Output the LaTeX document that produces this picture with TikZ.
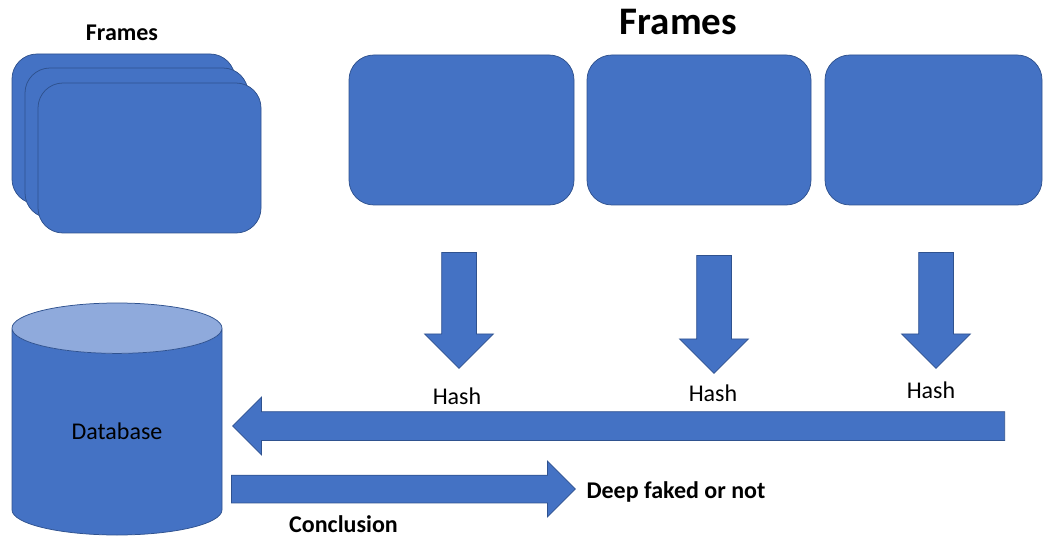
\documentclass[tikz,border=0pt]{standalone}
\usepackage{fontspec}
\setmainfont{Carlito}
\usetikzlibrary{shapes.geometric,shapes.arrows}
\definecolor{office}{HTML}{4472C4}
\definecolor{officedark}{HTML}{2F528F}
\definecolor{officelight}{HTML}{8FAADC}

\begin{document}
\begin{tikzpicture}[x=1pt, y=-1pt, font=\fontsize{24}{28}\selectfont]
\tikzset{%
	boxfill/.style = {draw=officedark, fill=office, line width=.75pt},
	frame/.style = {rectangle, rounded corners=25pt, minimum height=150pt, minimum width=223pt, inner sep=0pt, boxfill},
	blockarrow/.style 2 args = {single arrow, single arrow head extend=#1, inner sep=#2, anchor=tail, boxfill},
	db/.style = {cylinder, shape border rotate=90, aspect=.24, inner xsep=105pt, inner ysep=0pt, minimum height=232pt, anchor=shape center, cylinder uses custom fill, cylinder body fill=office, cylinder end fill=officelight, draw=officedark, line width=.75pt},
	title/.style = {font=\fontsize{39}{44}\selectfont\bfseries},
	lbl/.style = {font=\fontsize{24}{28}\selectfont\bfseries}
}
\useasboundingbox (0,0) rectangle (1044,540);

% Stack of frames
\draw node at (122,32.5) [lbl] (stacktitle) {Frames};
\draw node at (123.5,129) [frame] (s1) {};
\draw node at (136.5,143) [frame] (s2) {};
\draw node at (149.5,158) [frame] (s3) {};

% Frames in a row
\draw node at (678.5,22.5) [title] (rowtitle) {Frames};
\draw node at (461.5,130) [frame, minimum width=225pt] (f1) {};
\draw node at (699,130) [frame, minimum width=224pt] (f2) {};
\draw node at (933.5,130) [frame, minimum width=217pt] (f3) {};

% Hashing
\draw node at (459,252) [blockarrow={17pt}{17pt}, shape border rotate=270, minimum height=116pt] (a1) {};
\draw node at (714,255) [blockarrow={17pt}{17pt}, shape border rotate=270, minimum height=118pt] (a2) {};
\draw node at (936,252) [blockarrow={17pt}{17pt}, shape border rotate=270, minimum height=116pt] (a3) {};
\draw node at (457,396) (h1) {Hash};
\draw node at (713,393) (h2) {Hash};
\draw node at (931,390) (h3) {Hash};

\draw node at (1005,426) [blockarrow={14.5pt}{14pt}, shape border rotate=180, minimum height=772pt] (store) {};

% Database
\draw node at (117,419) [db] (base) {};
\draw node at (117,431) (basetext) {Database};

% Conclusion
\draw node at (231,489) [blockarrow={14pt}{13.5pt}, minimum height=344pt] (conc) {};
\draw node at (583,492) [lbl, anchor=west] (result) {Deep faked or not};
\draw node at (343.5,524) [lbl] (conctext) {Conclusion};

\end{tikzpicture}
\end{document}
